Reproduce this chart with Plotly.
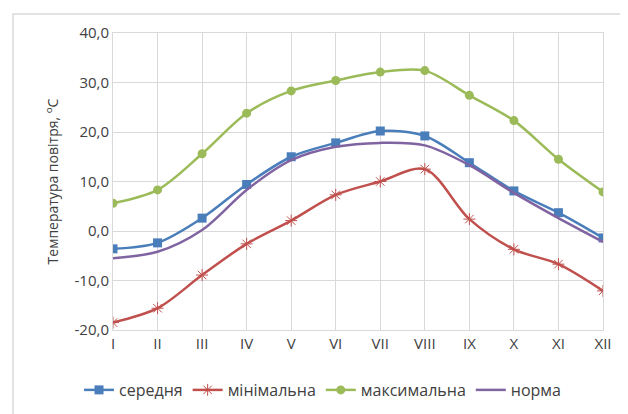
import plotly.graph_objects as go

months = ["I", "II", "III", "IV", "V", "VI", "VII", "VIII", "IX", "X", "XI", "XII"]
avg_t = [-3.6, -2.4, 2.6, 9.4, 15.0, 17.8, 20.2, 19.2, 13.8, 8.1, 3.7, -1.4]
min_t = [-18.5, -15.6, -8.9, -2.6, 2.1, 7.3, 10.0, 12.5, 2.4, -3.7, -6.7, -12.1]
max_t = [5.6, 8.3, 15.6, 23.8, 28.3, 30.4, 32.1, 32.4, 27.4, 22.3, 14.5, 7.9]
norm_t = [-5.5, -4.2, 0.2, 8.3, 14.3, 17.0, 17.8, 17.3, 13.3, 7.7, 2.6, -2.2]
y_ticks = [-20, -10, 0, 10, 20, 30, 40]
y_labels = ["-20,0", "-10,0", "0,0", "10,0", "20,0", "30,0", "40,0"]

x = list(range(1, len(months) + 1))
font = "Open Sans"

fig = go.Figure()
fig.add_trace(go.Scatter(
    x=x, y=avg_t, name="середня", mode="lines+markers",
    line=dict(color="#4A7EBB", width=2.5, shape="spline", smoothing=0.9),
    marker=dict(symbol="square", size=9, color="#4A7EBB"),
))
fig.add_trace(go.Scatter(
    x=x, y=min_t, name="мінімальна", mode="lines+markers",
    line=dict(color="#C0504D", width=2.5, shape="spline", smoothing=0.9),
    marker=dict(symbol="asterisk-open", size=10, color="#C0504D", line=dict(width=1, color="#C0504D")),
))
fig.add_trace(go.Scatter(
    x=x, y=max_t, name="максимальна", mode="lines+markers",
    line=dict(color="#9BBB59", width=2.5, shape="spline", smoothing=0.9),
    marker=dict(symbol="circle", size=9, color="#9BBB59"),
))
fig.add_trace(go.Scatter(
    x=x, y=norm_t, name="норма", mode="lines",
    line=dict(color="#8064A2", width=2.5, shape="spline", smoothing=0.9),
))

# outer chart border (top and left visible)
fig.add_shape(type="rect", xref="paper", yref="paper",
              x0=-0.204, x1=1.2, y0=-0.4, y1=1.064,
              line=dict(color="#d9d9d9", width=1.5), layer="below")

fig.update_layout(
    width=620, height=406,
    paper_bgcolor="white", plot_bgcolor="white",
    margin=dict(l=105, r=25, t=25, b=84, autoexpand=False),
    font=dict(family=font, size=14, color="#404040"),
    xaxis=dict(
        range=[1, 12], tickvals=x, ticktext=months, tickangle=0,
        showgrid=True, gridcolor="#d9d9d9", gridwidth=1,
        showline=True, mirror=True, linecolor="#d9d9d9", linewidth=1,
        zeroline=False, ticks="", tickfont=dict(size=15, color="#404040"),
    ),
    yaxis=dict(
        range=[-20, 40], tickvals=y_ticks, ticktext=y_labels,
        showgrid=True, gridcolor="#d9d9d9", gridwidth=1,
        showline=True, mirror=True, linecolor="#d9d9d9", linewidth=1,
        zeroline=False, ticks="", tickfont=dict(size=15, color="#404040"),
        title=dict(text="Температура повітря, <sup>о</sup>С", font=dict(size=14, color="#404040"), standoff=12),
    ),
    legend=dict(
        orientation="h", x=0.4276, xanchor="center",
        y=-0.202, yanchor="middle", font=dict(size=16, color="#404040"),
    ),
)

fig.write_html("out.html")
